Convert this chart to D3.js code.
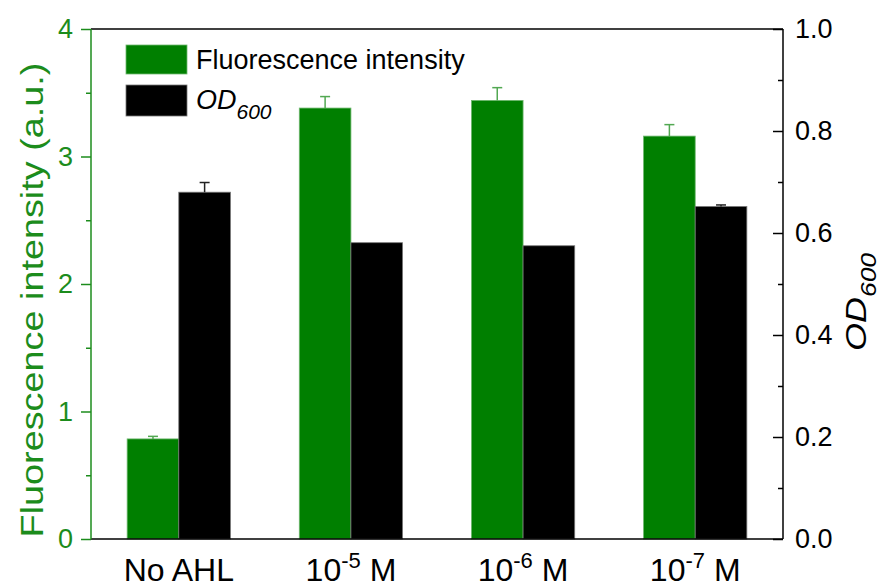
<!DOCTYPE html>
<html>
<head>
  <meta charset="utf-8">
  <script src="https://d3js.org/d3.v7.min.js"></script>
  <style>
    body { margin: 0; background: #fff; }
    text { font-family: Arial, "Liberation Sans", sans-serif; }
  </style>
</head>
<body>
  <div id="chart"></div>
  <script>

  // groups along the x axis (base text + superscript exponent)
  var groupBase = ["No AHL", "10", "10", "10"]
  var groupExp = ["", "-5", "-6", "-7"]

  // left axis: fluorescence intensity (a.u.)
  var fluor = [0.785, 3.38, 3.44, 3.16]
  var fluorErr = [0.02, 0.09, 0.10, 0.09]

  // right axis: OD600 (errors of the middle two are too small to show)
  var od = [0.680, 0.581, 0.575, 0.652]
  var odErr = [0.019, 0, 0, 0.003]

  var leftTicks = [0, 1, 2, 3, 4]
  var leftMinor = [0.5, 1.5, 2.5, 3.5]
  var rightTicks = [0, 0.2, 0.4, 0.6, 0.8, 1.0]
  var rightMinor = [0.1, 0.3, 0.5, 0.7, 0.9]

  var W = 885, H = 588
  var margin = {top: 29, right: 102, bottom: 49, left: 91}
  var width = W - margin.left - margin.right,
      height = H - margin.top - margin.bottom

  var green = "#007f00", axisGreen = "#1c8c1c"

  var svg = d3.select("#chart").append("svg")
    .attr("width", W).attr("height", H)

  var g = svg.append("g")
    .attr("transform", "translate(" + margin.left + "," + margin.top + ")")

  var idx = d3.range(groupBase.length)

  var x = d3.scaleBand()
    .domain(idx)
    .range([0, width])
    .paddingInner(0.4)
    .paddingOuter(0.21)

  var sub = d3.scaleBand()
    .domain(["f", "od"])
    .range([0, x.bandwidth()])

  var yL = d3.scaleLinear().domain([0, 4]).range([height, 0])
  var yR = d3.scaleLinear().domain([0, 1]).range([height, 0])

  // bars
  g.selectAll(".fbar")
    .data(idx)
    .enter().append("rect")
    .attr("class", "fbar")
    .attr("x", function(i) { return x(i) + sub("f") })
    .attr("y", function(i) { return yL(fluor[i]) })
    .attr("width", sub.bandwidth())
    .attr("height", function(i) { return height - yL(fluor[i]) })
    .style("fill", green)
    .style("stroke", "#6fb86f")
    .style("stroke-width", 0.8)

  g.selectAll(".obar")
    .data(idx)
    .enter().append("rect")
    .attr("class", "obar")
    .attr("x", function(i) { return x(i) + sub("od") })
    .attr("y", function(i) { return yR(od[i]) })
    .attr("width", sub.bandwidth())
    .attr("height", function(i) { return height - yR(od[i]) })
    .style("fill", "#000")
    .style("stroke", "#777")
    .style("stroke-width", 0.8)

  // error bars (upper half only)
  function errBars(cls, key, vals, errs, scale, color) {
    var eb = g.selectAll("." + cls)
      .data(idx.filter(function(i) { return errs[i] > 0 }))
      .enter().append("g")
      .attr("class", cls)
    var cx = function(i) { return x(i) + sub(key) + sub.bandwidth() / 2 }
    eb.append("line")
      .attr("x1", cx).attr("x2", cx)
      .attr("y1", function(i) { return scale(vals[i]) })
      .attr("y2", function(i) { return scale(vals[i] + errs[i]) })
      .style("stroke", color).style("stroke-width", 1.5)
    eb.append("line")
      .attr("x1", function(i) { return cx(i) - 5 })
      .attr("x2", function(i) { return cx(i) + 5 })
      .attr("y1", function(i) { return scale(vals[i] + errs[i]) })
      .attr("y2", function(i) { return scale(vals[i] + errs[i]) })
      .style("stroke", color).style("stroke-width", 1.5)
  }
  errBars("ferr", "f", fluor, fluorErr, yL, "#52a852")
  errBars("oerr", "od", od, odErr, yR, "#222")

  // frame: top + bottom lines
  g.append("line").attr("x1", 0).attr("x2", width).attr("y1", 0).attr("y2", 0)
    .style("stroke", "#000").style("stroke-width", 1.5)
  g.append("line").attr("x1", 0).attr("x2", width).attr("y1", height).attr("y2", height)
    .style("stroke", "#000").style("stroke-width", 1.5)

  // left axis
  var gl = g.append("g")
    .call(d3.axisLeft(yL).tickValues(leftTicks).tickSize(10).tickPadding(8)
      .tickFormat(d3.format("d")))
  gl.select(".domain").attr("d", "M0,0V" + height)
  gl.append("g").call(d3.axisLeft(yL).tickValues(leftMinor).tickSize(5).tickFormat(""))
    .select(".domain").remove()
  gl.selectAll("path, line").style("stroke", axisGreen).style("stroke-width", 1.5)
  gl.selectAll("text").style("fill", axisGreen).style("font-size", "27px")
    .attr("font-family", null)

  // right axis (ticks pointing inward)
  var gr = g.append("g").attr("transform", "translate(" + width + ",0)")
    .call(d3.axisRight(yR).tickValues(rightTicks).tickSize(-10).tickPadding(12)
      .tickFormat(d3.format(".1f")))
  gr.select(".domain").attr("d", "M0,0V" + height)
  gr.append("g").call(d3.axisRight(yR).tickValues(rightMinor).tickSize(-5).tickFormat(""))
    .select(".domain").remove()
  gr.selectAll("path, line").style("stroke", "#000").style("stroke-width", 1.5)
  gr.selectAll("text").style("fill", "#000").style("font-size", "27px")
    .attr("font-family", null)

  // x labels
  var xl = g.selectAll(".xlab")
    .data(idx)
    .enter().append("text")
    .attr("class", "xlab")
    .attr("x", function(i) { return x(i) + x.bandwidth() / 2 })
    .attr("y", height + 42)
    .attr("text-anchor", "middle")
    .style("font-size", "32px")
    .style("fill", "#000")
  xl.append("tspan").text(function(i) { return groupBase[i] })
  xl.filter(function(i) { return groupExp[i] !== "" }).each(function(i) {
    var t = d3.select(this)
    t.append("tspan").attr("dy", -13).style("font-size", "22px").text(groupExp[i])
    t.append("tspan").attr("dy", 13).text("\u00a0M")
  })

  // axis titles
  svg.append("text")
    .attr("transform", "translate(43," + (margin.top + height / 2 + 16) + ") rotate(-90) scale(1.22,1)")
    .attr("text-anchor", "middle")
    .style("font-size", "31px")
    .style("fill", axisGreen)
    .text("Fluorescence intensity (a.u.)")

  var rt = svg.append("text")
    .attr("transform", "translate(866," + (margin.top + height / 2 + 18) + ") rotate(-90) scale(1.2,1)")
    .attr("text-anchor", "middle")
    .style("font-size", "30px")
    .style("font-style", "italic")
    .style("fill", "#000")
  rt.append("tspan").text("OD")
  rt.append("tspan").attr("dy", 10).style("font-size", "22px").text("600")

  // legend
  var legend = g.append("g").attr("transform", "translate(35,16)")
  legend.append("rect").attr("x", 0).attr("y", 0).attr("width", 61).attr("height", 29)
    .style("fill", green).style("stroke", "#6fb86f").style("stroke-width", 0.8)
  legend.append("rect").attr("x", 0).attr("y", 40).attr("width", 61).attr("height", 31)
    .style("fill", "#000").style("stroke", "#777").style("stroke-width", 0.8)
  legend.append("text").attr("x", 70).attr("y", 24)
    .style("font-size", "27px").style("fill", "#000")
    .text("Fluorescence intensity")
  var lt = legend.append("text").attr("x", 70).attr("y", 64)
    .style("font-size", "27px").style("font-style", "italic").style("fill", "#000")
  lt.append("tspan").text("OD")
  lt.append("tspan").attr("dy", 10).style("font-size", "21px").text("600")

  </script>
</body>
</html>
